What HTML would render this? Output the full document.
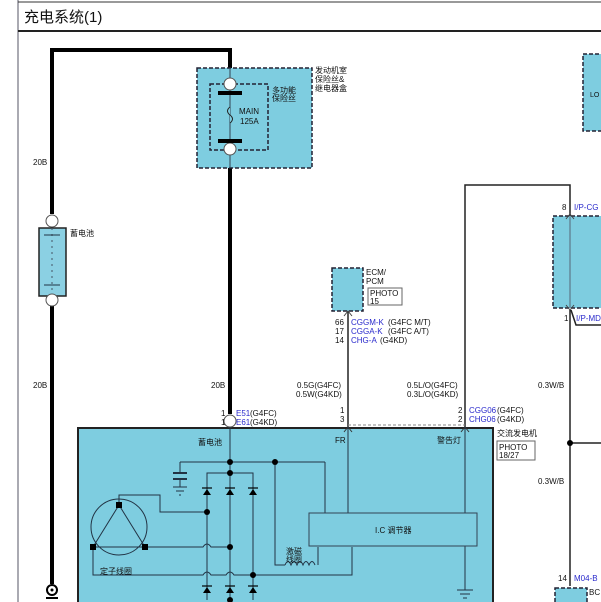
<!DOCTYPE html>
<html><head><meta charset="utf-8"><style>
html,body{margin:0;padding:0;background:#fff;width:601px;height:602px;overflow:hidden}
svg{display:block}
text{font-family:"Liberation Sans","Noto Sans CJK SC",sans-serif;font-size:8px;fill:#111}
.b{fill:#2a2acc}
</style></head><body>
<svg width="601" height="602" viewBox="0 0 601 602" xmlns="http://www.w3.org/2000/svg">
<!-- frame -->
<line x1="18" y1="0" x2="18" y2="602" stroke="#556" stroke-width="1"/>
<line x1="18" y1="2" x2="601" y2="2" stroke="#333" stroke-width="1"/>
<line x1="18" y1="31" x2="601" y2="31" stroke="#222" stroke-width="2"/>
<text x="24" y="22" style="font-size:15px">充电系统(1)</text>

<!-- LO box -->
<rect x="583" y="54" width="22" height="77" fill="#7ecde0" stroke="#223" stroke-width="1.5" stroke-dasharray="4,2"/>
<text x="590" y="97" style="font-size:7px">LO</text>

<!-- thick wires -->
<polyline points="52,214 52,50 230,50 230,68" fill="none" stroke="#000" stroke-width="4"/>
<line x1="230" y1="168" x2="230" y2="414" stroke="#000" stroke-width="4"/>
<line x1="52" y1="306" x2="52" y2="584" stroke="#000" stroke-width="4"/>

<!-- fuse box -->
<rect x="197" y="68" width="115" height="100" fill="#7ecde0" stroke="#223" stroke-width="1.5" stroke-dasharray="4,2"/>
<rect x="210" y="84" width="58" height="66" fill="none" stroke="#223" stroke-width="1.5" stroke-dasharray="4,2"/>
<line x1="230" y1="68" x2="230" y2="168" stroke="#345" stroke-width="1"/>
<circle cx="230" cy="84" r="6" fill="#fff" stroke="#555"/>
<circle cx="230" cy="149" r="6" fill="#fff" stroke="#555"/>
<rect x="218" y="91" width="24" height="4" fill="#000"/>
<rect x="218" y="139" width="24" height="4" fill="#000"/>
<path d="M230,107 q-5,4 0,8 q5,4 0,8" fill="#7ecde0" stroke="#222"/>
<text x="239" y="114">MAIN</text><text x="240" y="124">125A</text>
<text x="272" y="93">多功能</text><text x="272" y="101">保险丝</text>
<text x="315" y="73">发动机室</text><text x="315" y="82">保险丝&amp;</text><text x="315" y="91">继电器盒</text>

<!-- battery -->
<circle cx="52" cy="221" r="6" fill="#fff" stroke="#555"/>
<rect x="39" y="228" width="27" height="68" fill="#8bd0e3" stroke="#222" stroke-width="1.5"/>
<line x1="52" y1="228" x2="52" y2="296" stroke="#456" stroke-dasharray="2,4"/>
<line x1="44" y1="235" x2="60" y2="235" stroke="#234"/><line x1="44" y1="285" x2="60" y2="285" stroke="#234"/>
<circle cx="52" cy="300" r="6" fill="#fff" stroke="#555"/>
<text x="70" y="236">蓄电池</text>
<text x="33" y="165">20B</text><text x="33" y="388">20B</text><text x="211" y="388">20B</text>
<!-- ground at bottom left -->
<circle cx="52" cy="590" r="5" fill="#fff" stroke="#000" stroke-width="2"/><circle cx="52" cy="590" r="1.5" fill="#000"/>
<line x1="46" y1="598" x2="58" y2="598" stroke="#000" stroke-width="2"/>

<!-- ECM -->
<rect x="332" y="268" width="31" height="43" fill="#7ecde0" stroke="#223" stroke-width="1.5" stroke-dasharray="4,2"/>
<text x="366" y="275">ECM/</text><text x="366" y="284">PCM</text>
<rect x="368" y="288" width="34" height="17" fill="#fff" stroke="#666"/>
<text x="370" y="296">PHOTO</text><text x="370" y="304">15</text>
<line x1="348" y1="311" x2="348" y2="428" stroke="#222" stroke-width="1.5"/>
<polyline points="344,316 348,311 352,316" fill="none" stroke="#444"/>
<text x="335" y="325">66</text><text x="351" y="325" class="b">CGGM-K</text><text x="388" y="325">(G4FC M/T)</text>
<text x="335" y="334">17</text><text x="351" y="334" class="b">CGGA-K</text><text x="388" y="334">(G4FC A/T)</text>
<text x="335" y="343">14</text><text x="351" y="343" class="b">CHG-A</text><text x="380" y="343">(G4KD)</text>
<text x="297" y="388">0.5G(G4FC)</text><text x="296" y="397">0.5W(G4KD)</text>
<text x="340" y="413">1</text><text x="340" y="422">3</text>

<!-- warning lamp wire -->
<polyline points="465,428 465,185 570,185 570,216" fill="none" stroke="#222" stroke-width="1.5"/>
<text x="407" y="388">0.5L/O(G4FC)</text><text x="407" y="397">0.3L/O(G4KD)</text>
<text x="458" y="413">2</text><text x="469" y="413" class="b">CGG06</text><text x="497" y="413">(G4FC)</text>
<text x="458" y="422">2</text><text x="469" y="422" class="b">CHG06</text><text x="497" y="422">(G4KD)</text>
<line x1="348" y1="425" x2="465" y2="425" stroke="#888" stroke-dasharray="3,2"/>

<!-- cluster box -->
<rect x="553" y="216" width="52" height="92" fill="#7ecde0" stroke="#223" stroke-width="1.5" stroke-dasharray="4,2"/>
<line x1="570" y1="216" x2="570" y2="308" stroke="#567"/>
<text x="562" y="210">8</text><text x="574" y="210" class="b">I/P-CG</text>
<text x="564" y="321">1</text><text x="576" y="321" class="b">I/P-MD</text>
<polyline points="566,219 570,214 574,219" fill="none" stroke="#444"/>
<polyline points="566,305 570,310 574,305" fill="none" stroke="#444"/>
<polyline points="571,310 576,325 601,325" fill="none" stroke="#222" stroke-width="1.5"/>
<line x1="570" y1="310" x2="570" y2="586" stroke="#222" stroke-width="1.5"/>
<line x1="570" y1="443" x2="601" y2="443" stroke="#222" stroke-width="1.5"/>
<circle cx="570" cy="443" r="3" fill="#000"/>
<text x="538" y="388">0.3W/B</text><text x="538" y="484">0.3W/B</text>
<text x="558" y="581">14</text><text x="574" y="581" class="b">M04-B</text>
<rect x="555" y="588" width="32" height="20" fill="#7ecde0" stroke="#223" stroke-width="1.5" stroke-dasharray="4,2"/>
<text x="589" y="595">BC</text>

<!-- alternator -->
<rect x="78" y="428" width="415" height="180" fill="#7ecde0" stroke="#222" stroke-width="2"/>
<text x="497" y="436">交流发电机</text>
<rect x="497" y="441" width="38" height="19" fill="#fff" stroke="#666"/>
<text x="499" y="450">PHOTO</text><text x="499" y="458">18/27</text>
<circle cx="230" cy="421" r="6" fill="#fff" stroke="#555"/>
<text x="221" y="416">1</text><text x="236" y="416" class="b">E51</text><text x="250" y="416">(G4FC)</text>
<text x="221" y="425">1</text><text x="236" y="425" class="b">E61</text><text x="250" y="425">(G4KD)</text>
<polyline points="344,432 348,427 352,432" fill="none" stroke="#333"/>
<polyline points="461,432 465,427 469,432" fill="none" stroke="#333"/>
<text x="335" y="443">FR</text><text x="437" y="443">警告灯</text>
<text x="198" y="445">蓄电池</text>

<g stroke="#234" stroke-width="1" fill="none">
<line x1="230" y1="427" x2="230" y2="600"/>
<line x1="180" y1="462" x2="325" y2="462"/>
<line x1="325" y1="462" x2="325" y2="513"/>
<polyline points="275,462 275,565 285,565"/>
<polyline points="318,565 318,547"/>
<path d="M285,565 q3,-7 6,0 q3,-7 6,0 q3,-7 6,0 q3,-7 6,0 q3,-7 6,0"/>
<line x1="180" y1="462" x2="180" y2="473"/>
<line x1="173" y1="473" x2="187" y2="473" stroke-width="2"/>
<line x1="173" y1="479" x2="187" y2="479" stroke-width="2"/>
<line x1="180" y1="479" x2="180" y2="487"/>
<line x1="173" y1="487" x2="187" y2="487"/><line x1="176" y1="491" x2="184" y2="491"/><line x1="179" y1="495" x2="181" y2="495"/>
<polyline points="207,600 207,473 253,473 253,600"/>
<line x1="348" y1="427" x2="348" y2="513"/>
<line x1="465" y1="427" x2="465" y2="590"/>
<line x1="457" y1="590" x2="473" y2="590"/><line x1="460" y1="594" x2="470" y2="594"/><line x1="463" y1="598" x2="467" y2="598"/>
<circle cx="119" cy="527" r="28"/>
<polyline points="119,505 93,547 145,547 119,505"/>
<polyline points="119,505 119,495 160,495 160,512 207,512"/>
<path d="M145,547 H203 q4,-6 8,0 H230"/>
<path d="M93,547 V575 H203 q4,-6 8,0 H226 q4,-6 8,0 H352 V547"/>
</g>
<rect x="309" y="513" width="168" height="33" fill="#7ecde0" stroke="#345"/>
<text x="375" y="533">I.C 调节器</text>
<text x="286" y="554">激磁</text><text x="286" y="562">线圈</text>
<text x="100" y="574">定子线圈</text>
<g fill="#000">
<circle cx="230" cy="462" r="3"/><circle cx="275" cy="462" r="3"/><circle cx="230" cy="473" r="3"/>
<circle cx="207" cy="512" r="3"/><circle cx="230" cy="547" r="3"/><circle cx="253" cy="575" r="3"/><circle cx="230" cy="600" r="3"/>
<rect x="116" y="502" width="6" height="6"/><rect x="90" y="544" width="6" height="6"/><rect x="142" y="544" width="6" height="6"/>
<!-- diodes -->
<path d="M203,495 h8 l-4,-6z M226,495 h8 l-4,-6z M249,495 h8 l-4,-6z"/>
<path d="M203,593 h8 l-4,-6z M226,593 h8 l-4,-6z M249,593 h8 l-4,-6z"/>
</g>
<g stroke="#000" stroke-width="1.2">
<line x1="202" y1="488" x2="212" y2="488"/><line x1="225" y1="488" x2="235" y2="488"/><line x1="248" y1="488" x2="258" y2="488"/>
<line x1="202" y1="586" x2="212" y2="586"/><line x1="225" y1="586" x2="235" y2="586"/><line x1="248" y1="586" x2="258" y2="586"/>
</g>
</svg>
</body></html>
